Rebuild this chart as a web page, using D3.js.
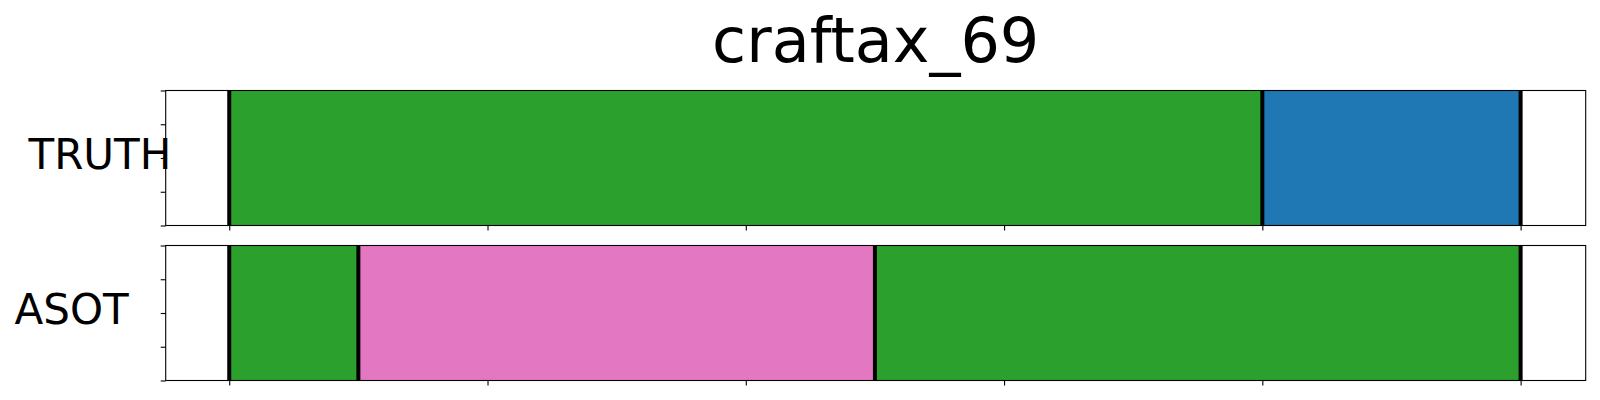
<!DOCTYPE html>
<html>
<head>
<meta charset="utf-8">
<script src="https://cdn.jsdelivr.net/npm/d3@7"></script>
<style>
  html, body { margin: 0; padding: 0; background: #fff; }
  svg { display: block; }
  text { font-family: "DejaVu Sans", sans-serif; fill: #000; }
</style>
</head>
<body>
<svg id="chart" width="1600" height="400"></svg>
<script>
// ---- data ----
const title = "craftax_69";
const rowNames = ["TRUTH", "ASOT"];
const truthStarts = [0, 80];
const truthEnds = [80, 100];
const truthActions = ["green", "blue"];
const asotStarts = [0, 10, 50];
const asotEnds = [10, 50, 100];
const asotActions = ["green", "pink", "green"];
const xTickValues = [0, 20, 40, 60, 80, 100];
const yTickValues = [0, 0.25, 0.5, 0.75, 1];
const actionColors = { green: "#2ca02c", blue: "#1f77b4", pink: "#e377c2" };

const rows = [
  { name: rowNames[0], starts: truthStarts, ends: truthEnds, actions: truthActions, top: 90.5, labelX: 28.5 },
  { name: rowNames[1], starts: asotStarts, ends: asotEnds, actions: asotActions, top: 245.5, labelX: 14.5 }
];

const svg = d3.select("#chart");
const left = 165.7, right = 1585.7, axH = 135;
const x = d3.scaleLinear().domain([-4.92, 105.04]).range([left, right]);

svg.append("text")
  .attr("x", (left + right) / 2)
  .attr("y", 62)
  .attr("text-anchor", "middle")
  .style("font-size", "62px")
  .text(title);

rows.forEach(r => {
  const y = d3.scaleLinear().domain([0, 1]).range([r.top + axH, r.top]);
  const g = svg.append("g");
  const segs = r.starts.map((s, i) => ({ s, e: r.ends[i], a: r.actions[i] }));
  g.selectAll("rect.seg").data(segs).enter().append("rect")
    .attr("class", "seg")
    .attr("x", d => x(d.s))
    .attr("width", d => x(d.e) - x(d.s))
    .attr("y", y(1))
    .attr("height", y(0) - y(1))
    .attr("fill", d => actionColors[d.a]);
  const bounds = Array.from(new Set([...r.starts, ...r.ends]));
  g.selectAll("line.bd").data(bounds).enter().append("line")
    .attr("x1", d => x(d)).attr("x2", d => x(d))
    .attr("y1", y(1)).attr("y2", y(0))
    .attr("stroke", "#000").attr("stroke-width", 4);
  // axes
  const xa = g.append("g").attr("transform", `translate(0,${y(0)})`)
    .call(d3.axisBottom(x).tickValues(xTickValues).tickSize(5).tickFormat(""));
  xa.select(".domain").remove();
  const ya = g.append("g").attr("transform", `translate(${left},0)`)
    .call(d3.axisLeft(y).tickValues(yTickValues).tickSize(5).tickFormat(""));
  ya.select(".domain").remove();
  g.selectAll(".tick line").attr("stroke", "#000").attr("stroke-width", 1.1);
  g.append("rect")
    .attr("x", left).attr("y", y(1))
    .attr("width", right - left).attr("height", y(0) - y(1))
    .attr("fill", "none").attr("stroke", "#000").attr("stroke-width", 1.1);
  svg.append("text")
    .attr("x", r.labelX)
    .attr("y", (y(0) + y(1)) / 2 + 11.3)
    .style("font-size", "42px")
    .text(r.name);
});
</script>
</body>
</html>
